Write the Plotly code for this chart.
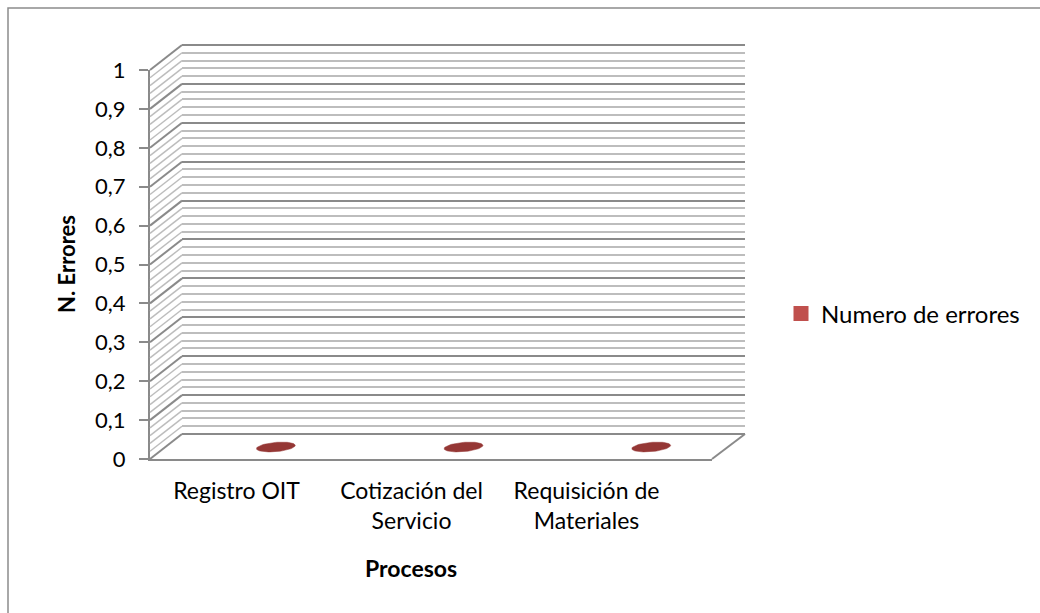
import math
import plotly.graph_objects as go

# ---------------- data ----------------
CATEGORIES = ["Registro OIT", "Cotización del<br>Servicio", "Requisición de<br>Materiales"]
VALUES = [0, 0, 0]
SERIES_NAME = "Numero de errores"
Y_TICKS = [0, 0.1, 0.2, 0.3, 0.4, 0.5, 0.6, 0.7, 0.8, 0.9, 1]
Y_TICK_TEXT = ["0", "0,1", "0,2", "0,3", "0,4", "0,5", "0,6", "0,7", "0,8", "0,9", "1"]
X_TITLE = "Procesos"
Y_TITLE = "N. Errores"

# ---------------- layout geometry (pixels) ----------------
W, H = 1040, 613
FONT = "Lato"
MAJOR_C, MINOR_C = "#8a8a8a", "#bdbdbd"
MAJOR_W, MINOR_W = 2, 1.5
YMIN, YMAX = Y_TICKS[0], Y_TICKS[-1]
UNIT = 389.0 / (YMAX - YMIN)          # pixels per value unit

BX0, BX1, B_ZERO = 182, 745, 434      # back wall
FX0, FX1, F_ZERO = 150, 712, 459      # front plane
M_ZERO = 447                          # mid-depth plane (column tops)
LX0, LX1 = 149, 674                   # category label band


def px(p):
    return p / W


def py(p):
    return 1 - p / H


def yb(v):
    return B_ZERO - (v - YMIN) * UNIT


def yf(v):
    return F_ZERO - (v - YMIN) * UNIT


ncat = len(CATEGORIES)
PAD = 0.006
MPAD = 0.03

fig = go.Figure()

# ellipses (tops of zero-height columns)
RX, RY, TILT = 19.5, 4.6, math.radians(5)
cat_px = (BX1 - BX0) / ncat
ex, ey = [], []
for i, v in enumerate(VALUES):
    for k in range(61):
        t = 2 * math.pi * k / 60
        dx = RX * math.cos(t)
        dy = RY * math.sin(t)
        rx = dx * math.cos(TILT) - dy * math.sin(TILT)
        ry = dx * math.sin(TILT) + dy * math.cos(TILT)
        ex.append(i + rx / cat_px)
        ey.append(v + ry / UNIT)
    ex.append(None)
    ey.append(None)

fig.add_trace(go.Scatter(x=ex, y=ey, xaxis="x", yaxis="y3", mode="lines",
                         fill="toself", fillcolor="#953735",
                         line=dict(color="#953735", width=0.5),
                         showlegend=False, hoverinfo="skip"))
# legend entry
fig.add_trace(go.Scatter(x=[None], y=[None], xaxis="x2", yaxis="y2", mode="markers",
                         marker=dict(symbol="square", size=15, color="#C0504D"),
                         name=SERIES_NAME))
# helpers to make sure subplots exist
fig.add_trace(go.Scatter(x=[None], y=[None], xaxis="x", yaxis="y",
                         showlegend=False, hoverinfo="skip"))
fig.add_trace(go.Scatter(x=[None], y=[None], xaxis="x3", yaxis="y2",
                         showlegend=False, hoverinfo="skip"))

# side wall diagonals + floor edges
shapes = []
n_minor = int(round((YMAX - YMIN) / 0.02))
for k in range(n_minor + 1):
    v = YMIN + k * 0.02
    major = (k % 5 == 0)
    shapes.append(dict(type="line", xref="paper", yref="paper",
                       x0=px(FX0), y0=py(yf(v)), x1=px(BX0), y1=py(yb(v)),
                       line=dict(color=MAJOR_C if major else MINOR_C,
                                 width=MAJOR_W if major else MINOR_W)))
# floor right edge
shapes.append(dict(type="line", xref="paper", yref="paper",
                   x0=px(FX1), y0=py(yf(YMIN)), x1=px(BX1), y1=py(yb(YMIN)),
                   line=dict(color=MAJOR_C, width=MAJOR_W)))
# chart area border
shapes.append(dict(type="rect", xref="paper", yref="paper",
                   x0=px(8), y0=py(8), x1=px(W + 20), y1=py(H + 20),
                   line=dict(color="#8c8c8c", width=1.5), fillcolor="rgba(0,0,0,0)"))

axis_off = dict(showgrid=False, zeroline=False, showticklabels=False, ticks="",
                showline=False, fixedrange=True, automargin=False)

fig.update_layout(
    width=W, height=H,
    autosize=False,
    margin=dict(l=0, r=0, t=0, b=0, pad=0, autoexpand=False),
    paper_bgcolor="white", plot_bgcolor="rgba(0,0,0,0)",
    font=dict(family=FONT, size=23, color="#000000"),
    showlegend=True,
    legend=dict(x=px(781), y=py(314), xanchor="left", yanchor="middle",
                font=dict(family=FONT, size=24, color="#000000"),
                bgcolor="rgba(0,0,0,0)", itemwidth=30),
    shapes=shapes,
    # back wall
    xaxis=dict(domain=[px(BX0), px(BX1)], range=[-0.5, ncat - 0.5], anchor="y", **axis_off),
    yaxis=dict(domain=[py(yb(YMIN) + PAD * UNIT), py(yb(YMAX) - PAD * UNIT)],
               range=[YMIN - PAD, YMAX + PAD], anchor="x",
               showgrid=True, gridcolor=MAJOR_C, gridwidth=MAJOR_W,
               tick0=0, dtick=0.1,
               minor=dict(tick0=0, dtick=0.02, showgrid=True, gridcolor=MINOR_C,
                          gridwidth=MINOR_W),
               zeroline=False, showticklabels=False, ticks="", showline=False,
               fixedrange=True, automargin=False),
    # front plane
    xaxis2=dict(domain=[px(FX0), px(FX1)], range=[0, 1], anchor="y2",
                showgrid=False, zeroline=False, showticklabels=False, ticks="",
                showline=True, linecolor=MAJOR_C, linewidth=MAJOR_W, fixedrange=True,
                automargin=False),
    yaxis2=dict(domain=[py(yf(YMIN)), py(yf(YMAX))], range=[YMIN, YMAX], anchor="x2",
                showgrid=False, zeroline=False, showline=True, linecolor=MAJOR_C,
                linewidth=MAJOR_W, ticks="outside", ticklen=9, tickwidth=1.5,
                tickcolor=MAJOR_C, tickvals=Y_TICKS, ticktext=Y_TICK_TEXT,
                ticklabelstandoff=9, fixedrange=True, automargin=False,
                tickfont=dict(family=FONT, size=22, color="#000000")),
    # category labels
    xaxis3=dict(domain=[px(LX0), px(LX1)], range=[-0.5, ncat - 0.5], anchor="y2",
                tickmode="array", tickvals=list(range(ncat)), ticktext=CATEGORIES,
                showgrid=False, zeroline=False, showline=False, ticks="",
                ticklabelstandoff=16, fixedrange=True, automargin=False,
                tickfont=dict(family=FONT, size=23, color="#000000")),
    # mid-depth plane for column tops
    yaxis3=dict(domain=[py(M_ZERO + MPAD * UNIT), py(M_ZERO - (YMAX - YMIN) * UNIT)],
                range=[YMIN - MPAD, YMAX], anchor="x", **axis_off),
    annotations=[
        dict(text="<b>%s</b>" % Y_TITLE, xref="paper", yref="paper",
             x=px(66), y=py(264), xanchor="center", yanchor="middle",
             textangle=-90, showarrow=False,
             font=dict(family=FONT, size=22, color="#000000")),
        dict(text="<b>%s</b>" % X_TITLE, xref="paper", yref="paper",
             x=px(411), y=py(568), xanchor="center", yanchor="middle",
             showarrow=False,
             font=dict(family=FONT, size=23, color="#000000")),
    ],
)

fig.write_html("out.html")
